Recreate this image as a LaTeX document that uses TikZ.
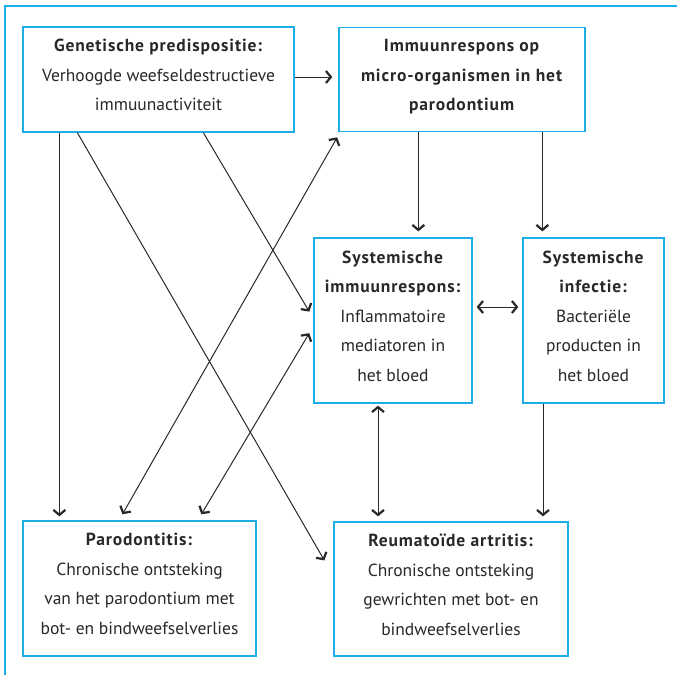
\documentclass[tikz,border=0pt]{standalone}
\usepackage{fontspec}
\setmainfont{PT Sans}[BoldFeatures={LetterSpace=5}]
\usepackage{xcolor}
\usepackage{tikz}
\usetikzlibrary{arrows.meta, positioning}

\definecolor{boxcyan}{RGB}{30,174,230}
\definecolor{inkgray}{RGB}{40,40,40}

\begin{document}
\begin{tikzpicture}[x=1pt, y=-1pt,
    box/.style={draw=boxcyan, line width=1.3pt, align=center, text=inkgray,
        inner sep=0pt, text depth=9pt, font=\fontsize{17.5}{29.5}\selectfont},
    link/.style={draw=inkgray, line width=1pt},
    >={Straight Barb[length=5pt, width=12pt, line width=2.2pt]}]
    \useasboundingbox (0,0) rectangle (677,675);

    % Outer frame
    \draw[boxcyan, line width=2pt] (5,675) -- (5,6) -- (677,6);

    % Top row
    \node[box, minimum width=271pt, minimum height=105pt] (gen) at (158.5,79.5)
        {\textbf{Genetische predispositie:}\\Verhoogde weefseldestructieve\\immuunactiviteit};
    \node[box, minimum width=246pt, minimum height=104pt] (imm) at (462,79.5)
        {\textbf{Immuunrespons op}\\\textbf{micro-organismen in het}\\\textbf{parodontium}};

    % Middle row
    \node[box, minimum width=158pt, minimum height=165pt] (sysimm) at (393,320.5)
        {\textbf{Systemische}\\\textbf{immuunrespons:}\\Inflammatoire\\mediatoren in\\het bloed};
    \node[box, minimum width=141pt, minimum height=165pt] (sysinf) at (593.5,320.5)
        {\textbf{Systemische}\\\textbf{infectie:}\\Bacteriële\\producten in\\het bloed};

    % Bottom row
    \node[box, minimum width=233pt, minimum height=135pt] (paro) at (139.5,588.5)
        {\textbf{Parodontitis:}\\Chronische ontsteking\\van het parodontium met\\bot- en bindweefselverlies};
    \node[box, minimum width=234pt, minimum height=134pt] (ra) at (451,589)
        {\textbf{Reumatoïde artritis:}\\Chronische ontsteking\\gewrichten met bot- en\\bindweefselverlies};

    % Arrows from genetic predisposition
    \draw[link, ->, shorten >=6pt] ([yshift=2.5pt]gen.east) -- ([yshift=2.5pt]imm.west);
    \draw[link, ->, shorten >=4pt] ([xshift=37pt]gen.south west) -- ([xshift=37pt]gen.south west |- paro.north);
    \draw[link, ->, shorten >=18pt] ([xshift=55pt]gen.south west) -- ([yshift=13pt]ra.west);
    \draw[link, ->, shorten >=8pt] ([xshift=181pt]gen.south west) -- ([yshift=2pt]sysimm.west);

    % Arrows between parodontitis and the immune response
    \draw[link, <->, shorten <=7pt, shorten >=6pt] ([xshift=96.6pt]paro.north west) -- ([xshift=1.8pt]imm.south west);
    \draw[link, <->, shorten <=7pt, shorten >=8pt] ([xshift=175.4pt]paro.north west) -- ([yshift=-5.8pt]sysimm.west);

    % Arrows from the local immune response
    \draw[link, ->, shorten >=6pt] ([xshift=80pt]imm.south west) -- ([xshift=80pt]imm.south west |- sysimm.north);
    \draw[link, ->, shorten >=6pt] ([xshift=204pt]imm.south west) -- ([xshift=204pt]imm.south west |- sysinf.north);

    % Systemic level
    \draw[link, <->, shorten <=4pt, shorten >=4pt] ([yshift=13.5pt]sysimm.east) -- ([yshift=13.5pt]sysinf.west);
    \draw[link, <->, shorten <=2pt, shorten >=5pt] ([xshift=-15pt]sysimm.south) -- ([xshift=-15pt]sysimm.south |- ra.north);
    \draw[link, ->, shorten >=5pt] ([xshift=-50.5pt]sysinf.south) -- ([xshift=-50.5pt]sysinf.south |- ra.north);
\end{tikzpicture}
\end{document}
